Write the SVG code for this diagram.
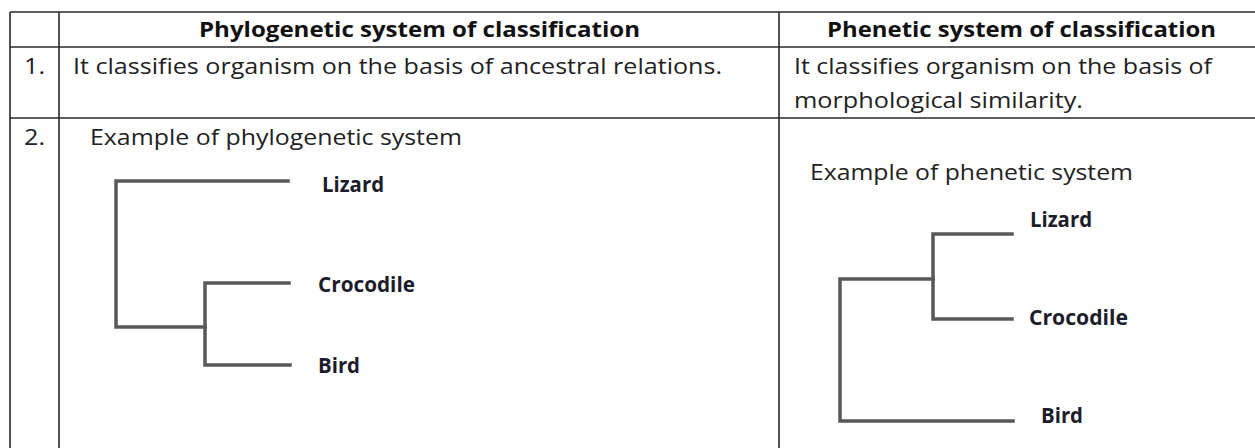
<svg xmlns="http://www.w3.org/2000/svg" width="1255" height="448" viewBox="0 0 1255 448">
<style>
text{font-variant-ligatures:none}
.grid{stroke:#2a2a2a;stroke-width:1.6;fill:none}
.t{font-family:"Open Sans","Noto Sans","Liberation Sans",sans-serif;font-size:21px;fill:#222}
.h{font-family:"Open Sans","Noto Sans","Liberation Sans",sans-serif;font-size:21px;font-weight:bold;fill:#111}
.lab{font-family:"Open Sans","Noto Sans","Liberation Sans",sans-serif;font-size:21px;font-weight:bold;fill:#1c1c2a}
.br{stroke:#585858;stroke-width:3.5;fill:none;stroke-linecap:square;stroke-linejoin:miter}
</style>
<rect width="1255" height="448" fill="#fff"/>
<g id="table">
<path class="grid" d="M10 12H1255M10 47H1255M10 118H1255M10 12V448M59 12V448M779 12V448"/>
</g>
<g id="headers">
<text class="h" x="199" y="37" textLength="441" lengthAdjust="spacingAndGlyphs">Phylogenetic system of classification</text>
<text class="h" x="827" y="37" textLength="389" lengthAdjust="spacingAndGlyphs">Phenetic system of classification</text>
</g>
<g id="row1">
<text class="t" x="24" y="74" textLength="21" lengthAdjust="spacingAndGlyphs">1.</text>
<text class="t" x="73" y="74" textLength="649" lengthAdjust="spacingAndGlyphs">It classifies organism on the basis of ancestral relations.</text>
<text class="t" x="794" y="74" textLength="418" lengthAdjust="spacingAndGlyphs">It classifies organism on the basis of</text>
<text class="t" x="794" y="108" textLength="289" lengthAdjust="spacingAndGlyphs">morphological similarity.</text>
</g>
<g id="row2">
<text class="t" x="24" y="145" textLength="21" lengthAdjust="spacingAndGlyphs">2.</text>
<text class="t" x="90" y="145" textLength="372" lengthAdjust="spacingAndGlyphs">Example of phylogenetic system</text>
<text class="t" x="810" y="180" textLength="323" lengthAdjust="spacingAndGlyphs">Example of phenetic system</text>
</g>
<g id="phylogenetic-tree">
<g id="connectors-1">
<path class="br" d="M288 181H116V327H205"/>
<path class="br" d="M289 283H205V365H290"/>
</g>
<g id="node-lizard-1"><text class="lab" x="322" y="192" textLength="62" lengthAdjust="spacingAndGlyphs">Lizard</text></g>
<g id="node-crocodile-1"><text class="lab" x="318" y="292" textLength="97" lengthAdjust="spacingAndGlyphs">Crocodile</text></g>
<g id="node-bird-1"><text class="lab" x="318" y="373" textLength="42" lengthAdjust="spacingAndGlyphs">Bird</text></g>
</g>
<g id="phenetic-tree">
<g id="connectors-2">
<path class="br" d="M1012 234H933V319H1012"/>
<path class="br" d="M933 279H840V421H1013"/>
</g>
<g id="node-lizard-2"><text class="lab" x="1030" y="227" textLength="62" lengthAdjust="spacingAndGlyphs">Lizard</text></g>
<g id="node-crocodile-2"><text class="lab" x="1029" y="325" textLength="99" lengthAdjust="spacingAndGlyphs">Crocodile</text></g>
<g id="node-bird-2"><text class="lab" x="1041" y="423" textLength="42" lengthAdjust="spacingAndGlyphs">Bird</text></g>
</g>
</svg>
